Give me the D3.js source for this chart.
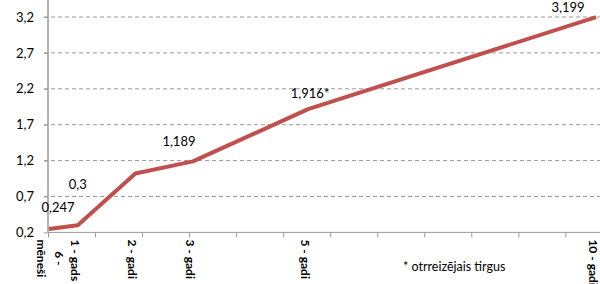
<!DOCTYPE html>
<html>
<head>
<meta charset="utf-8">
<script src="https://cdn.jsdelivr.net/npm/d3@7"></script>
<style>
  body { margin: 0; background: #fff; }
  svg { display: block; font-family: Lato, "Open Sans", sans-serif; }
</style>
</head>
<body>
<div id="chart-area"></div>
<script>
// Data: term in months, value, labels
const months = [6, 12, 24, 36, 60, 120];
const values = [0.247, 0.3, 1.02, 1.189, 1.916, 3.199];
const valueLabels = ["0,247", "0,3", "", "1,189", "1,916*", "3,199"];
const termLabels = [["6 -", "mēneši"], ["1 - gads"], ["2 - gadi"], ["3 - gadi"], ["5 - gadi"], ["10 - gadi"]];
const yTicks = [0.2, 0.7, 1.2, 1.7, 2.2, 2.7, 3.2];
const footnote = "* otrreizējais tirgus";

// label nudges (px) relative to the point
const labelDx = [9, 0, 0, -14, 2, -28];
const labelDy = [-17, -36, 0, -15, -11, -5];

const width = 600, height = 284;
const plot = { left: 48, right: 598, top: 17, bottom: 232.4 };

const svg = d3.select("#chart-area")
    .append("svg")
    .attr("width", width)
    .attr("height", height);

const xScale = d3.scaleLinear().domain([5.8, 120.4]).range([plot.left, plot.right]);
const yScale = d3.scaleLinear().domain([0.2, 3.2]).range([plot.bottom, plot.top]);

// gridlines
svg.append("g")
    .selectAll("line")
    .data(yTicks.slice(1))
    .join("line")
    .attr("x1", plot.left - 4)
    .attr("x2", width)
    .attr("y1", d => yScale(d))
    .attr("y2", d => yScale(d))
    .attr("stroke", "#9a9a9a")
    .attr("stroke-width", 1)
    .attr("stroke-dasharray", "4,3");

// y axis
const yAxis = d3.axisLeft(yScale)
    .tickValues(yTicks)
    .tickSize(4)
    .tickFormat(d => d3.format(".1f")(d).replace(".", ","));

const yg = svg.append("g")
    .attr("transform", "translate(" + plot.left + ",0)")
    .call(yAxis);
yg.select(".domain").remove();
yg.selectAll(".tick line").attr("stroke", "#9a9a9a");
yg.selectAll(".tick text")
    .attr("x", -14)
    .attr("fill", "#000")
    .style("font-size", "13px")
    .style("font-family", "Lato, sans-serif");

svg.append("line")
    .attr("x1", plot.left).attr("x2", plot.left)
    .attr("y1", 0).attr("y2", plot.bottom)
    .attr("stroke", "#9a9a9a").attr("stroke-width", 1.5);

// x axis (unlabelled ticks every ~10 months)
const xTickVals = d3.range(12).map(k => 5.8 + k * 9.8);
const xAxis = d3.axisBottom(xScale)
    .tickValues(xTickVals)
    .tickSize(5)
    .tickFormat("");
const xg = svg.append("g")
    .attr("transform", "translate(0," + plot.bottom + ")")
    .call(xAxis);
xg.select(".domain").attr("stroke", "#9a9a9a").attr("d", "M" + plot.left + ",0H" + width);
xg.selectAll(".tick line").attr("stroke", "#9a9a9a");

// term labels, rotated, lines centred on each other
const tl = svg.append("g")
    .selectAll("text")
    .data(months)
    .join("text")
    .attr("transform", d => "translate(" + xScale(d) + "," + (plot.bottom + 7) + ") rotate(90)")
    .attr("font-size", "12px")
    .attr("font-weight", "bold")
    .attr("text-anchor", "middle")
    .attr("fill", "#000");
tl.each(function(d, i) {
    const lines = termLabels[i];
    const t = d3.select(this);
    const base = lines.length > 1 ? 3 : 7;
    lines.forEach((s, j) => {
        t.append("tspan")
            .attr("y", (j - (lines.length - 1) / 2) * 18 + base)
            .text(s);
    });
    let maxLen = 0;
    t.selectAll("tspan").each(function() { maxLen = Math.max(maxLen, this.getComputedTextLength()); });
    t.selectAll("tspan").attr("x", maxLen / 2);
});

// line
const pts = months.map((m, i) => [m, values[i]]);
svg.append("path")
    .datum(pts)
    .attr("fill", "none")
    .attr("stroke", "#C0504D")
    .attr("stroke-width", 4)
    .attr("stroke-linejoin", "round")
    .attr("d", d3.line().x(d => xScale(d[0])).y(d => yScale(d[1])));

// value labels
svg.append("g")
    .selectAll("text")
    .data(pts)
    .join("text")
    .attr("x", (d, i) => xScale(d[0]) + labelDx[i])
    .attr("y", (d, i) => yScale(d[1]) + labelDy[i])
    .attr("text-anchor", "middle")
    .attr("font-size", "13px")
    .attr("fill", "#000")
    .text((d, i) => valueLabels[i]);

// footnote
svg.append("text")
    .attr("x", 403)
    .attr("y", 271)
    .attr("font-size", "12.5px")
    .attr("fill", "#000")
    .text(footnote);
</script>
</body>
</html>
